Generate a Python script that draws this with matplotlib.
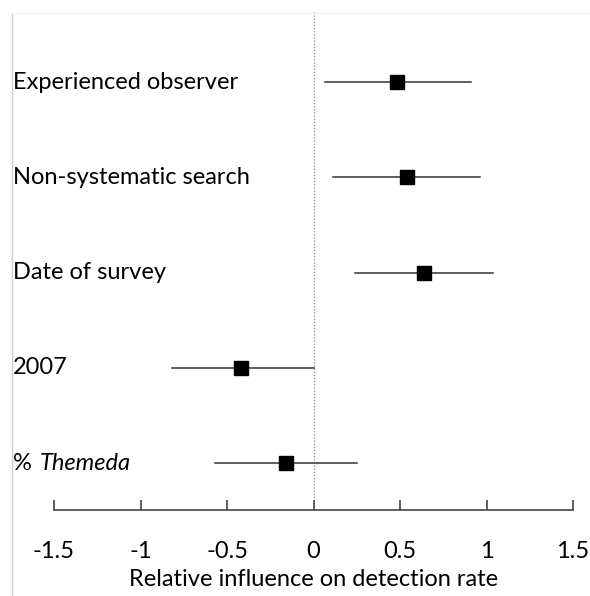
import matplotlib.pyplot as plt
from matplotlib.lines import Line2D
import matplotlib.transforms as mtransforms

plt.rcParams['font.family'] = ['Lato', 'DejaVu Sans']

labels = ["Experienced observer", "Non-systematic search", "Date of survey", "2007", "% Themeda"]
estimates = [0.48, 0.54, 0.64, -0.42, -0.16]
lower = [0.064, 0.11, 0.24, -0.82, -0.57]
upper = [0.91, 0.96, 1.04, 0.0, 0.25]
xticks = [-1.5, -1, -0.5, 0, 0.5, 1, 1.5]
xticklabels = ["-1.5", "-1", "-0.5", "0", "0.5", "1", "1.5"]

fs = 17

fig = plt.figure(figsize=(5.9, 5.96), dpi=100)
ax = fig.add_axes([54 / 590, 86 / 596, 519 / 590, 500 / 596])

rows = list(range(len(labels), 0, -1))
ax.axvline(0, color="#888888", linestyle=(0, (1, 1.5)), linewidth=0.9, zorder=1)
for y, est, lo, hi in zip(rows, estimates, lower, upper):
    ax.plot([lo, hi], [y, y], color="#333333", linewidth=1.1, zorder=2)
ax.plot(estimates, rows, linestyle="none", marker="s", markersize=10,
        color="black", zorder=3)

trans = mtransforms.blended_transform_factory(fig.transFigure, ax.transData)
for y, lab in zip(rows, labels):
    if lab.startswith("% "):
        ax.text(13 / 590, y, "%", transform=trans, fontsize=fs, va="center", ha="left")
        ax.text(40 / 590, y, lab[2:], transform=trans, fontsize=fs, va="center",
                ha="left", style="italic")
    else:
        ax.text(13 / 590, y, lab, transform=trans, fontsize=fs, va="center", ha="left")

ax.set_xlim(-1.5, 1.5)
ax.set_ylim(0.507, 5.756)
ax.set_xticks(xticks)
ax.set_xticklabels(xticklabels, fontsize=fs)
ax.set_yticks([])
for s in ["left", "right", "top"]:
    ax.spines[s].set_visible(False)
ax.spines["bottom"].set_color("#444444")
ax.spines["bottom"].set_linewidth(1.2)
ax.tick_params(axis="x", direction="in", length=7, width=1.2, color="#444444", pad=22)
ax.set_xlabel("Relative influence on detection rate", fontsize=fs, labelpad=5)

fig.add_artist(Line2D([12 / 590, 12 / 590], [0, 583 / 596], transform=fig.transFigure,
                      color="#d0d0d0", linewidth=1))
fig.add_artist(Line2D([12 / 590, 1], [583 / 596, 583 / 596], transform=fig.transFigure,
                      color="#f2f2f2", linewidth=1))

fig.savefig("out.png", dpi=100)
